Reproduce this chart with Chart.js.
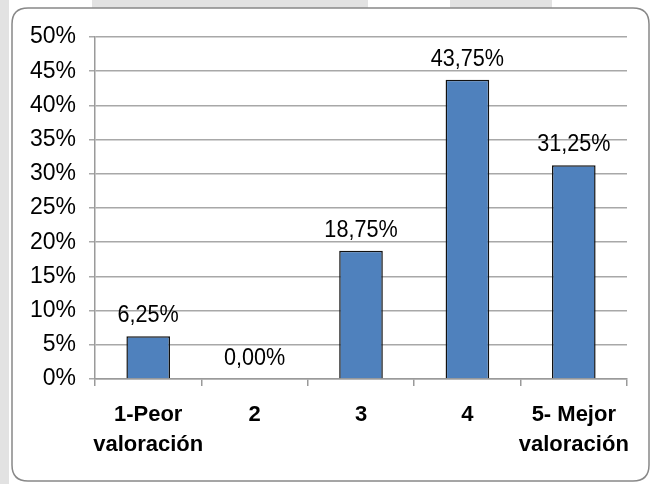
<!DOCTYPE html>
<html>
<head>
<meta charset="utf-8">
<script src="https://cdn.jsdelivr.net/npm/chart.js@4/dist/chart.umd.min.js"></script>
<style>
html,body{margin:0;padding:0;background:#fff;}
#wrap{position:relative;width:651px;height:484px;}
</style>
</head>
<body>
<div id="wrap"><canvas id="c" width="651" height="484"></canvas></div>
<script>
const categories = [["1-Peor", "valoración"], "2", "3", "4", ["5- Mejor", "valoración"]];
const values = [6.25, 0.00, 18.75, 43.75, 31.25];
const valueLabels = ["6,25%", "0,00%", "18,75%", "43,75%", "31,25%"];
const yTicks = [0, 5, 10, 15, 20, 25, 30, 35, 40, 45, 50];

const FONT = "'Liberation Sans Narrow', 'Arial Narrow', 'Liberation Sans', Arial, sans-serif";

const frame = {
  id: 'frame',
  beforeDraw(chart) {
    const ctx = chart.ctx;
    ctx.save();
    ctx.fillStyle = '#ffffff';
    ctx.fillRect(0, 0, 651, 484);
    ctx.fillStyle = '#e2e2e2';
    ctx.fillRect(0, 0, 9, 484);
    ctx.fillRect(92, 0, 276, 12);
    ctx.fillRect(450, 0, 102, 12);
    const x = 12, y = 8, w = 637, h = 473, r = 16;
    ctx.beginPath();
    ctx.moveTo(x + r, y);
    ctx.lineTo(x + w - r, y);
    ctx.quadraticCurveTo(x + w, y, x + w, y + r);
    ctx.lineTo(x + w, y + h - r);
    ctx.quadraticCurveTo(x + w, y + h, x + w - r, y + h);
    ctx.lineTo(x + r, y + h);
    ctx.quadraticCurveTo(x, y + h, x, y + h - r);
    ctx.lineTo(x, y + r);
    ctx.quadraticCurveTo(x, y, x + r, y);
    ctx.closePath();
    ctx.fillStyle = '#ffffff';
    ctx.fill();
    ctx.lineWidth = 1.5;
    ctx.strokeStyle = '#888888';
    ctx.stroke();
    ctx.restore();
  }
};

const valueLabelPlugin = {
  id: 'valueLabels',
  afterDatasetsDraw(chart) {
    const ctx = chart.ctx;
    const meta = chart.getDatasetMeta(0);
    ctx.save();
    ctx.font = "24px " + FONT;
    ctx.fillStyle = '#000';
    ctx.textAlign = 'center';
    ctx.textBaseline = 'alphabetic';
    meta.data.forEach((bar, i) => {
      ctx.save();
      ctx.translate(bar.x, bar.y - 14);
      ctx.scale(0.9, 1);
      ctx.fillText(valueLabels[i], 0, 0);
      ctx.restore();
    });
    ctx.restore();
  }
};

new Chart(document.getElementById('c'), {
  type: 'bar',
  data: {
    labels: categories,
    datasets: [{
      data: values,
      backgroundColor: '#4f81bd',
      borderColor: '#111111',
      borderWidth: 1.5,
      barPercentage: 0.41,
      categoryPercentage: 1.0
    }]
  },
  options: {
    responsive: false,
    animation: false,
    devicePixelRatio: 1,
    layout: { padding: { top: 37, left: 0, right: 24, bottom: 0 } },
    plugins: { legend: { display: false }, tooltip: { enabled: false } },
    scales: {
      x: {
        offset: true,
        grid: { offset: true, drawOnChartArea: false, drawTicks: true, tickLength: 7, color: '#9a9a9a', lineWidth: 1.5 },
        border: { color: '#9a9a9a', width: 1.5 },
        ticks: {
          color: '#000',
          font: { family: FONT, size: 22, weight: 'bold', lineHeight: 1.35 },
          padding: 14,
          maxRotation: 0,
          autoSkip: false
        },
        afterFit(scale) { scale.height = 105; }
      },
      y: {
        min: 0, max: 50,
        afterBuildTicks(scale) { scale.ticks = yTicks.map(v => ({ value: v })); },
        grid: { color: '#a8a8a8', lineWidth: 1.5, tickLength: 6, drawTicks: true },
        border: { color: '#9a9a9a', width: 1.5 },
        ticks: {
          color: '#000',
          font: { family: FONT, size: 23 },
          padding: 13,
          callback: (v) => v + '%'
        },
        afterFit(scale) { scale.width = 95; }
      }
    }
  },
  plugins: [frame, valueLabelPlugin]
});
</script>
</body>
</html>
